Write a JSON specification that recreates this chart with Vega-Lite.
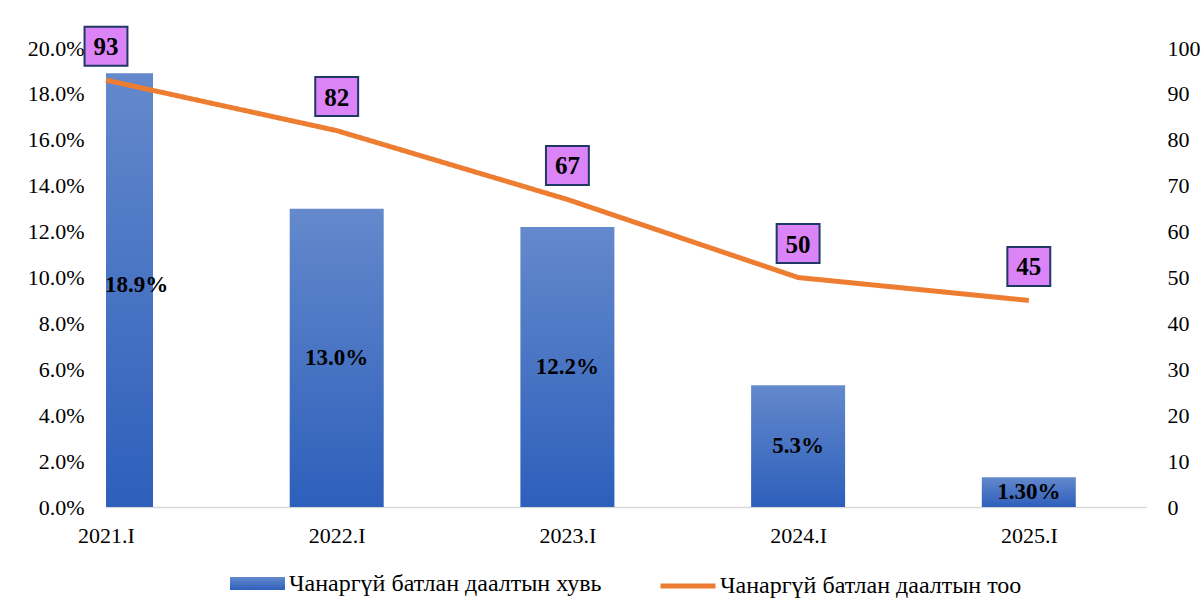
{
  "$schema": "https://vega.github.io/schema/vega-lite/v6.json",
  "width": 1040,
  "height": 459,
  "autosize": {"type": "none"},
  "padding": {"left": 106, "top": 48, "right": 57, "bottom": 105},
  "background": "white",
  "data": {
    "values": [
      {"year": "2021.I", "pct": 18.9, "pctLabel": "18.9%", "count": 93},
      {"year": "2022.I", "pct": 13.0, "pctLabel": "13.0%", "count": 82},
      {"year": "2023.I", "pct": 12.2, "pctLabel": "12.2%", "count": 67},
      {"year": "2024.I", "pct": 5.3, "pctLabel": "5.3%", "count": 50},
      {"year": "2025.I", "pct": 1.3, "pctLabel": "1.30%", "count": 45}
    ]
  },
  "encoding": {
    "x": {
      "field": "year",
      "type": "ordinal",
      "sort": null,
      "scale": {"type": "point", "padding": 0.254, "align": 0},
      "axis": {
        "title": null,
        "labelAngle": 0,
        "ticks": false,
        "domainColor": "#d9d9d9",
        "domainWidth": 1.5,
        "labelFont": "Liberation Serif",
        "labelFontSize": 22,
        "labelColor": "#000000",
        "labelPadding": 18
      }
    }
  },
  "layer": [
    {
      "mark": {
        "type": "bar",
        "width": 94,
        "clip": true,
        "fill": {
          "gradient": "linear",
          "x1": 0, "y1": 0, "x2": 0, "y2": 1,
          "stops": [
            {"offset": 0, "color": "#6489cc"},
            {"offset": 1, "color": "#2d5fbb"}
          ]
        }
      },
      "encoding": {
        "y": {
          "field": "pct",
          "type": "quantitative",
          "scale": {"domain": [0, 20]},
          "axis": {
            "orient": "left",
            "title": null,
            "values": [0, 2, 4, 6, 8, 10, 12, 14, 16, 18, 20],
            "labelExpr": "format(datum.value, '.1f') + '%'",
            "grid": false,
            "ticks": false,
            "domain": false,
            "labelFont": "Liberation Serif",
            "labelFontSize": 22,
            "labelColor": "#000000",
            "labelPadding": 22
          }
        },
        "opacity": {
          "datum": "Чанаргүй батлан даалтын хувь",
          "type": "nominal",
          "scale": {"range": [1]},
          "legend": {
            "title": null,
            "orient": "bottom",
            "direction": "horizontal",
            "symbolType": "M-1,-0.24H1V0.24H-1Z",
            "symbolSize": 3025,
            "symbolFillColor": "#3f6cc4",
            "symbolStrokeWidth": 0,
            "symbolOpacity": 1,
            "labelFont": "Liberation Serif",
            "labelFontSize": 24,
            "labelColor": "#000000",
            "labelLimit": 0,
            "labelOffset": 4,
            "offset": 10
          }
        }
      }
    },
    {
      "transform": [{"filter": "datum.year === '2021.I'"}],
      "mark": {"type": "text", "align": "left", "baseline": "middle", "dx": -1, "dy": -5, "font": "Liberation Serif", "fontWeight": "bold", "fontSize": 23, "color": "#000000"},
      "encoding": {
        "y": {"field": "pct", "type": "quantitative", "scale": {"domain": [0, 40]}, "axis": null},
        "text": {"field": "pctLabel"}
      }
    },
    {
      "transform": [{"filter": "datum.year !== '2021.I'"}],
      "mark": {"type": "text", "align": "center", "baseline": "middle", "font": "Liberation Serif", "fontWeight": "bold", "fontSize": 23, "color": "#000000"},
      "encoding": {
        "y": {"field": "pct", "type": "quantitative", "scale": {"domain": [0, 40]}, "axis": null},
        "text": {"field": "pctLabel"}
      }
    },
    {
      "mark": {"type": "line", "color": "#ED7D31", "strokeWidth": 5, "strokeJoin": "round", "strokeCap": "butt"},
      "encoding": {
        "y": {
          "field": "count",
          "type": "quantitative",
          "scale": {"domain": [0, 100]},
          "axis": {
            "orient": "right",
            "title": null,
            "values": [0, 10, 20, 30, 40, 50, 60, 70, 80, 90, 100],
            "grid": false,
            "ticks": false,
            "domain": false,
            "labelFont": "Liberation Serif",
            "labelFontSize": 22,
            "labelColor": "#000000",
            "labelPadding": 21
          }
        },
        "strokeDash": {
          "datum": "Чанаргүй батлан даалтын тоо",
          "type": "nominal",
          "scale": {"range": [[1, 0]]},
          "legend": {
            "title": null,
            "orient": "bottom",
            "direction": "horizontal",
            "symbolType": "stroke",
            "symbolSize": 3025,
            "symbolStrokeColor": "#ED7D31",
            "symbolStrokeWidth": 5,
            "symbolDash": [1, 0],
            "labelFont": "Liberation Serif",
            "labelFontSize": 24,
            "labelColor": "#000000",
            "labelLimit": 0,
            "labelOffset": 2,
            "offset": 10
          }
        }
      }
    },
    {
      "mark": {"type": "point", "shape": "M-1.1,-1H1.1V1H-1.1Z", "size": 1521, "filled": true, "fill": "#DA84F7", "stroke": "#1F3864", "strokeWidth": 2, "opacity": 1, "yOffset": -34},
      "encoding": {
        "y": {"field": "count", "type": "quantitative", "scale": {"domain": [0, 100]}, "axis": null}
      }
    },
    {
      "mark": {"type": "text", "align": "center", "baseline": "middle", "yOffset": -33, "font": "Liberation Serif", "fontWeight": "bold", "fontSize": 25, "color": "#000000"},
      "encoding": {
        "y": {"field": "count", "type": "quantitative", "scale": {"domain": [0, 100]}, "axis": null},
        "text": {"field": "count", "type": "quantitative"}
      }
    }
  ],
  "resolve": {"scale": {"y": "independent"}},
  "config": {
    "view": {"stroke": null},
    "font": "Liberation Serif",
    "legend": {
      "layout": {"bottom": {"anchor": "middle", "direction": "horizontal", "margin": 56}}
    }
  }
}
